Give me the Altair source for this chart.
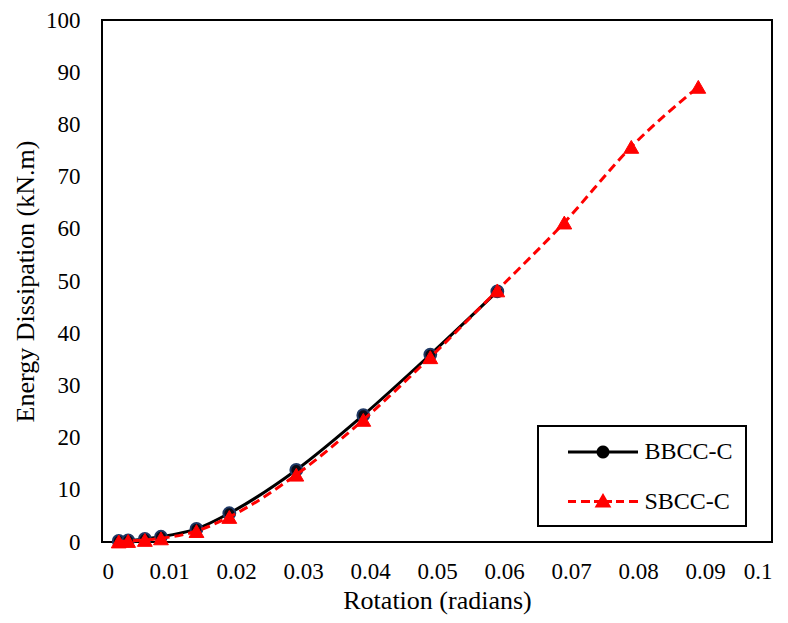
import math
import altair as alt
import pandas as pd

# ---------------- data ----------------
series_names = ["BBCC-C", "SBCC-C"]

bbcc_rotation = [0.0025, 0.0039, 0.0064, 0.0088, 0.0141, 0.019, 0.029, 0.039, 0.049, 0.059]
bbcc_energy = [0.2, 0.3, 0.6, 1.0, 2.5, 5.5, 13.8, 24.3, 35.9, 48.0]

sbcc_rotation = [0.0025, 0.0039, 0.0064, 0.0088, 0.0141, 0.019, 0.029, 0.039, 0.049,
                 0.059, 0.069, 0.079, 0.089]
sbcc_energy = [0.1, 0.2, 0.4, 0.7, 2.1, 4.8, 12.9, 23.4, 35.4, 48.2, 61.2, 75.7, 87.2]

x_ticks = [0, 0.01, 0.02, 0.03, 0.04, 0.05, 0.06, 0.07, 0.08, 0.09, 0.1]
y_ticks = [0, 10, 20, 30, 40, 50, 60, 70, 80, 90, 100]

x_title = "Rotation (radians)"
y_title = "Energy Dissipation (kN.m)"

# ---------------- table ----------------
rows = []
for r, e in zip(bbcc_rotation, bbcc_energy):
    rows.append({"series": series_names[0], "rotation": r, "energy": e})
for r, e in zip(sbcc_rotation, sbcc_energy):
    rows.append({"series": series_names[1], "rotation": r, "energy": e})
df = pd.DataFrame(rows)

FONT = "Liberation Serif"
NAVY = "#1F3864"
RED = "#FF0000"

x_enc = alt.X("rotation:Q", scale=alt.Scale(domain=[0, 0.1], nice=False),
              axis=alt.Axis(title=x_title, values=x_ticks, format="~g",
                            labelPadding=18, titlePadding=4,
                            labelFont=FONT, labelFontSize=23,
                            titleFont=FONT, titleFontSize=26))
y_enc = alt.Y("energy:Q", scale=alt.Scale(domain=[0, 100], nice=False),
              axis=alt.Axis(title=y_title, values=y_ticks,
                            labelPadding=22, titlePadding=7,
                            labelFont=FONT, labelFontSize=23,
                            titleFont=FONT, titleFontSize=26))

base = alt.Chart(df)

line_b = base.transform_filter(alt.datum.series == series_names[0]).mark_line(
    color="black", strokeWidth=3, interpolate="monotone"
).encode(x=x_enc, y=y_enc)

pts_b = base.transform_filter(alt.datum.series == series_names[0]).mark_point(
    shape="circle", filled=True, fill="#0a0a14", stroke=NAVY, strokeWidth=2,
    size=140, opacity=1
).encode(x=x_enc, y=y_enc)

line_s = base.transform_filter(alt.datum.series == series_names[1]).mark_line(
    color=RED, strokeWidth=3, strokeDash=[9, 5], interpolate="monotone"
).encode(x=x_enc, y=y_enc)

pts_s = base.transform_filter(alt.datum.series == series_names[1]).mark_point(
    shape="triangle-up", filled=True, fill=RED, stroke=RED, strokeWidth=1,
    size=220, opacity=1
).encode(x=x_enc, y=y_enc)

# ---------------- legend symbols (line + marker as one stroked path) ----------------
SYM_PX = 24.0            # sqrt(symbolSize)
U = SYM_PX / 2.0         # pixels per path unit


def u(px):
    return px / U


def ring(rad_px, n=20):
    pts = [(u(rad_px) * math.cos(2 * math.pi * k / n), u(rad_px) * math.sin(2 * math.pi * k / n))
           for k in range(n)]
    return "M" + "L".join(f"{a:.3f},{b:.3f}" for a, b in pts) + "Z"


def tri(scale):
    cy = 1.2
    verts = [(0, -5.5), (5.8, 4.6), (-5.8, 4.6)]
    pts = [(u(vx * scale), u(cy + (vy - cy) * scale)) for vx, vy in verts]
    return "M" + "L".join(f"{a:.3f},{b:.3f}" for a, b in pts) + "Z"


def seg(x0, x1):
    return f"M{u(x0):.3f},0L{u(x1):.3f},0"


path_b = (seg(-35, -6) + seg(6, 35) + ring(5.0) + ring(2.6) + ring(0.6))
path_s = (seg(-35, -27) + seg(-22, -13) + seg(-9, 9) + seg(13, 21) + seg(26, 35)
          + tri(1.0) + tri(0.55) + tri(0.15))

legend_def = alt.Legend(
    title=None,
    orient="none", legendX=436, legendY=406,
    symbolSize=SYM_PX ** 2, symbolStrokeWidth=3, symbolOffset=39,
    labelFont=FONT, labelFontSize=24, labelColor="black", labelOffset=28,
    padding=12.5, rowPadding=23.5,
    strokeColor="black", fillColor="white",
)

legend_layer = base.mark_point(filled=False, opacity=0, strokeWidth=3).encode(
    x=x_enc, y=y_enc,
    color=alt.Color("series:N", scale=alt.Scale(domain=series_names, range=["black", RED]),
                    legend=legend_def),
    shape=alt.Shape("series:N", scale=alt.Scale(domain=series_names, range=[path_b, path_s]),
                    legend=legend_def),
)

chart = alt.layer(line_b, pts_b, line_s, pts_s, legend_layer).properties(
    width=670, height=522,
    autosize=alt.AutoSizeParams(type="none"),
    padding={"left": 102, "top": 20, "right": 16, "bottom": 81},
    background="white",
).configure_axis(
    grid=False, domain=False, ticks=False, tickSize=0,
    labelColor="black", titleFontWeight="normal", titleColor="black",
).configure_view(
    stroke="black", strokeWidth=2
).configure_legend(
    strokeWidth=2
)

chart.save("out.html", embed_options={"renderer": "svg", "actions": False})
